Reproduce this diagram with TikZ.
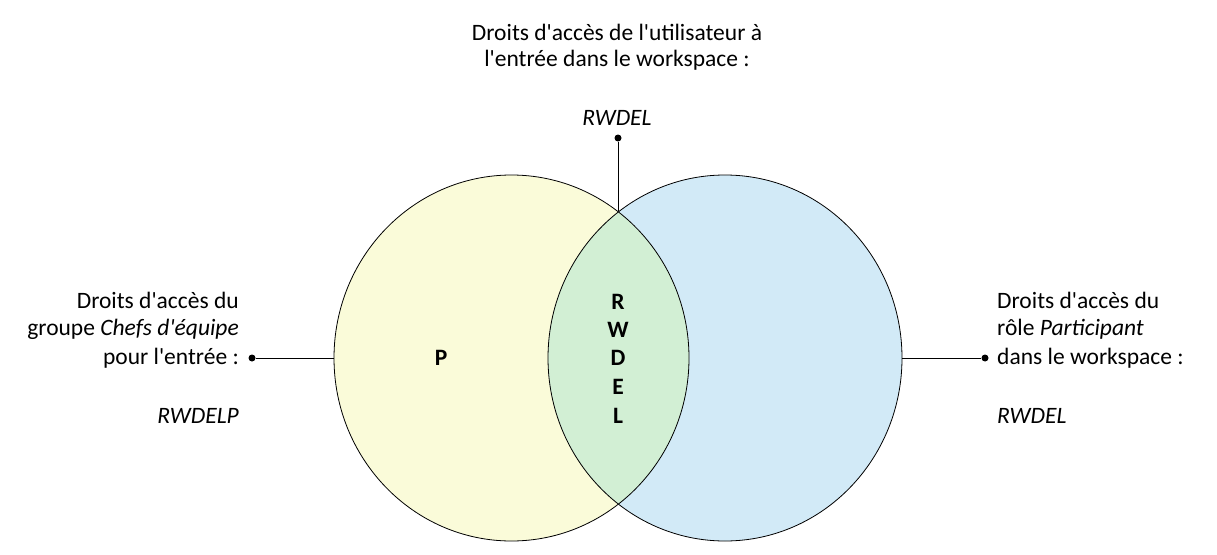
\documentclass[tikz,border=0pt]{standalone}
\usepackage{fontspec}
\setmainfont{Carlito}[Ligatures=TeXOff]
\definecolor{cyel}{HTML}{FAFBD9}
\definecolor{cblu}{HTML}{D2EAF7}
\definecolor{cgrn}{HTML}{D2EFD4}
\begin{document}
\begin{tikzpicture}[x=1pt,y=-1pt,
  lbl/.style={font=\fontsize{23.5}{28}\selectfont,inner sep=0pt},
  dotc/.style={circle,fill=black,inner sep=0pt,minimum size=7pt},
  conn/.style={draw=black,line width=0.6pt}]
\useasboundingbox (0,0) rectangle (1217,554);
\fill[cyel] (511.5,358) ellipse [x radius=177.5pt, y radius=183pt];
\fill[cblu] (725,358) ellipse [x radius=177pt, y radius=183pt];
\begin{scope}
\clip (511.5,358) ellipse [x radius=177.5pt, y radius=183pt];
\fill[cgrn] (725,358) ellipse [x radius=177pt, y radius=183pt];
\end{scope}
\draw[line width=0.8pt] (511.5,358) ellipse [x radius=177.5pt, y radius=183pt];
\draw[line width=0.8pt] (725,358) ellipse [x radius=177pt, y radius=183pt];
\coordinate (top) at (618,211);
\coordinate (lc) at (334,358);
\coordinate (rc) at (902,358);
\node[dotc] (dt) at (618,138) {};
\node[dotc] (dl) at (252,358) {};
\node[dotc] (dr) at (985,358) {};
\draw[conn] (top) -- (dt);
\draw[conn] (lc) -- (dl);
\draw[conn] (rc) -- (dr);
\node[lbl] (t1) at (617,32) {Droits d'accès de l'utilisateur à};
\node[lbl] (t2) at (617,60) {l'entrée dans le workspace :};
\node[lbl] (t3) at (617,118) {\itshape RWDEL};
\node[lbl,anchor=east] (l1) at (239,300) {Droits d'accès du};
\node[lbl,anchor=east] (l2) at (239,329) {groupe \textit{Chefs d'équipe}};
\node[lbl,anchor=east] (l3) at (239,358) {pour l'entrée :};
\node[lbl,anchor=east] (l4) at (239,416) {\itshape RWDELP};
\node[lbl,anchor=west] (r1) at (997,300) {Droits d'accès du};
\node[lbl,anchor=west] (r2) at (997,329) {rôle \textit{Participant}};
\node[lbl,anchor=west] (r3) at (997,358) {dans le workspace :};
\node[lbl,anchor=west] (r4) at (997,416) {\itshape RWDEL};
\node[lbl,font=\fontsize{23.5}{28}\selectfont\bfseries] (p) at (441,358) {P};
\foreach \c/\y in {R/302,W/330,D/358,E/387,L/416}
  \node[lbl,font=\fontsize{23.5}{28}\selectfont\bfseries] at (618,\y) {\c};
\end{tikzpicture}
\end{document}
